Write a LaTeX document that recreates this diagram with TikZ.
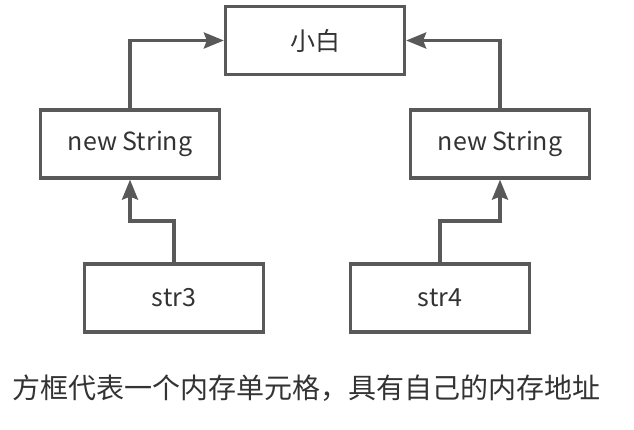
\documentclass[tikz,border=0pt]{standalone}
\usepackage{fontspec}
\setmainfont{Noto Sans CJK SC}
\usetikzlibrary{arrows.meta}
\definecolor{linegray}{HTML}{595959}
\definecolor{textgray}{HTML}{333333}
\begin{document}
\begin{tikzpicture}[x=1pt,y=-1pt,
  cell/.style={draw=linegray, line width=3.3pt, fill=white, minimum width=179pt, minimum height=68pt, inner sep=0pt, text=textgray, font=\fontsize{25}{30}\selectfont},
  link/.style={draw=linegray, line width=3.3pt, -{Stealth[length=20pt,width=16pt,inset=3pt]}}]
\useasboundingbox[fill=white] (0,0) rectangle (634,430);
\node[cell] (xb) at (315,40.5) {小白};
\node[cell] (lns) at (130,144) {new String};
\node[cell] (rns) at (500,144) {new String};
\node[cell] (s3) at (174,298) {str3};
\node[cell] (s4) at (440,298) {str4};
\coordinate (m3) at (174,221);
\coordinate (m4) at (440,221);
\draw[link] (lns.north) |- (xb.west);
\draw[link] (rns.north) |- (xb.east);
\draw[link] (s3.north) -- (m3) -| (lns.south);
\draw[link] (s4.north) -- (m4) -| (rns.south);
\node[text=textgray, font=\fontsize{28}{33}\selectfont] (cap) at (306.5,388) {方框代表一个内存单元格，具有自己的内存地址};
\end{tikzpicture}
\end{document}
